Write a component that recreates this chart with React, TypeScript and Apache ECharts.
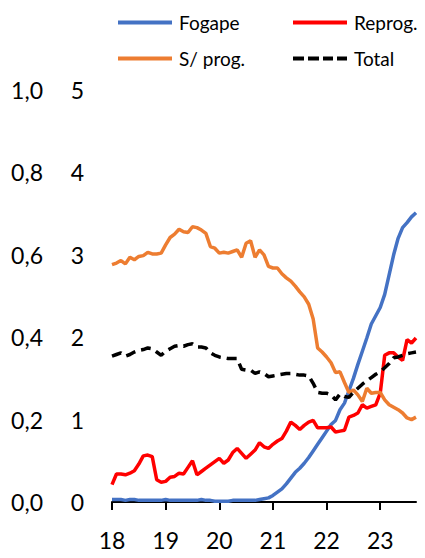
import React, { useEffect, useRef } from "react";
import * as echarts from "echarts";

// Monthly observations, Jan 2018 – Sep 2023
const START_YEAR = 2018;
const N_MONTHS = 69;
const months: string[] = Array.from({ length: N_MONTHS }, (_, i) => {
  const y = START_YEAR + Math.floor(i / 12);
  const m = (i % 12) + 1;
  return `${y}-${String(m).padStart(2, "0")}`;
});

const fogape = [
  0.03, 0.03, 0.03, 0.02, 0.03, 0.03, 0.02, 0.02, 0.02, 0.02, 0.02, 0.02,
  0.03, 0.02, 0.02, 0.02, 0.02, 0.02, 0.02, 0.02, 0.03, 0.02, 0.02, 0.01,
  0.01, 0.01, 0.01, 0.02, 0.02, 0.02, 0.02, 0.02, 0.02, 0.03, 0.04, 0.05,
  0.08, 0.12, 0.16, 0.22, 0.29, 0.36, 0.41, 0.47, 0.54, 0.62, 0.70, 0.78,
  0.86, 0.94, 0.99, 1.12, 1.20, 1.35, 1.50, 1.67, 1.83, 1.99, 2.16, 2.26,
  2.36, 2.52, 2.76, 3.00, 3.20, 3.33, 3.39, 3.46, 3.51,
];

const reprog = [
  0.21, 0.34, 0.34, 0.33, 0.35, 0.38, 0.46, 0.56, 0.57, 0.55, 0.27, 0.24,
  0.25, 0.30, 0.31, 0.35, 0.34, 0.42, 0.50, 0.33, 0.37, 0.41, 0.45, 0.49,
  0.53, 0.47, 0.51, 0.60, 0.65, 0.59, 0.53, 0.58, 0.63, 0.72, 0.67, 0.65,
  0.70, 0.74, 0.77, 0.86, 0.97, 0.93, 0.88, 0.93, 0.97, 0.99, 0.90, 0.90,
  0.90, 0.91, 0.85, 0.86, 0.87, 1.03, 1.05, 1.08, 1.18, 1.14, 1.16, 1.18,
  1.32, 1.78, 1.81, 1.81, 1.76, 1.72, 1.97, 1.93, 1.99,
];

const sinProg = [
  2.88, 2.90, 2.93, 2.89, 2.97, 2.94, 2.98, 2.99, 3.03, 3.01, 3.01, 3.02,
  3.12, 3.21, 3.25, 3.31, 3.28, 3.27, 3.34, 3.33, 3.30, 3.26, 3.10, 3.08,
  3.02, 3.03, 3.02, 3.04, 3.06, 2.97, 3.14, 3.17, 2.97, 3.06, 3.00, 2.86,
  2.84, 2.84, 2.77, 2.72, 2.68, 2.62, 2.55, 2.49, 2.40, 2.22, 1.87, 1.82,
  1.76, 1.69, 1.57, 1.58, 1.45, 1.33, 1.36, 1.30, 1.22, 1.38, 1.32, 1.33,
  1.33, 1.24, 1.18, 1.15, 1.12, 1.08, 1.02, 1.00, 1.03,
];

const total = [
  1.77, 1.79, 1.81, 1.77, 1.79, 1.82, 1.84, 1.85, 1.87, 1.86, 1.82, 1.78,
  1.83, 1.86, 1.89, 1.90, 1.89, 1.91, 1.92, 1.88, 1.88, 1.87, 1.81, 1.78,
  1.76, 1.75, 1.74, 1.74, 1.74, 1.61, 1.60, 1.60, 1.56, 1.58, 1.56, 1.52,
  1.53, 1.54, 1.55, 1.56, 1.56, 1.55, 1.54, 1.54, 1.53, 1.44, 1.33, 1.32,
  1.32, 1.30, 1.24, 1.31, 1.28, 1.27, 1.33, 1.38, 1.43, 1.47, 1.51, 1.55,
  1.58, 1.63, 1.68, 1.75, 1.76, 1.78, 1.80, 1.81, 1.82,
];

const FONT = "Lato, 'Open Sans', sans-serif";

// Legend keys: a solid bar, and a bar broken into four dashes (54 x 4)
const SOLID_ICON = "path://M0,0H54V4H0Z";
const DASH_ICON = "path://M0,0H11V4H0Z M15,0H26V4H15Z M30,0H40V4H30Z M44,0H54V4H44Z";

export default function App() {
  const ref = useRef<HTMLDivElement>(null);

  useEffect(() => {
    document.body.style.margin = "0";
    if (!ref.current) return;
    const chart = echarts.init(ref.current, null, { renderer: "svg" });

    const isJan = (i: number) => i % 12 === 0;
    const legendText = { fontFamily: FONT, fontSize: 19, color: "#000", padding: [0, 0, 0, 2] };
    const mkLegend = (name: string, left: number, top: number, icon: string) => ({
      data: [{ name, icon }],
      left,
      top,
      itemWidth: 54,
      itemHeight: 4,
      textStyle: legendText,
      selectedMode: false,
    });

    chart.setOption({
      animation: false,
      backgroundColor: "#fff",
      textStyle: { fontFamily: FONT },
      grid: { left: 112, right: 9, top: 90, bottom: 56 },
      legend: [
        mkLegend("Fogape", 113, 8, SOLID_ICON),
        mkLegend("Reprog.", 288, 8, SOLID_ICON),
        mkLegend("S/ prog.", 113, 44, SOLID_ICON),
        mkLegend("Total", 288, 44, DASH_ICON),
      ],
      xAxis: {
        type: "category",
        data: months,
        boundaryGap: false,
        axisLine: { lineStyle: { color: "#000", width: 2 } },
        axisTick: {
          interval: (i: number) => isJan(i),
          length: 8,
          lineStyle: { color: "#000", width: 2 },
        },
        axisLabel: {
          interval: (i: number) => isJan(i),
          formatter: (v: string) => v.slice(2, 4),
          fontFamily: FONT,
          fontSize: 23,
          color: "#000",
          margin: 26,
        },
        splitLine: { show: false },
      },
      yAxis: [
        {
          type: "value",
          position: "left",
          min: 0,
          max: 5,
          interval: 1,
          axisLine: { show: false },
          axisTick: { show: false },
          splitLine: { show: false },
          axisLabel: { fontFamily: FONT, fontSize: 23, color: "#000", margin: 28 },
        },
        {
          type: "value",
          position: "left",
          min: 0,
          max: 1,
          interval: 0.2,
          axisLine: { show: false },
          axisTick: { show: false },
          splitLine: { show: false },
          axisLabel: {
            fontFamily: FONT,
            fontSize: 23,
            color: "#000",
            margin: 69,
            formatter: (v: number) => v.toFixed(1).replace(".", ","),
          },
        },
      ],
      series: [
        {
          name: "Fogape",
          type: "line",
          data: fogape,
          yAxisIndex: 0,
          symbol: "none",
          lineStyle: { color: "#4472C4", width: 3.5 },
          itemStyle: { color: "#4472C4" },
        },
        {
          name: "Reprog.",
          type: "line",
          data: reprog,
          yAxisIndex: 0,
          symbol: "none",
          lineStyle: { color: "#FF0000", width: 3.5 },
          itemStyle: { color: "#FF0000" },
        },
        {
          name: "S/ prog.",
          type: "line",
          data: sinProg,
          yAxisIndex: 0,
          symbol: "none",
          lineStyle: { color: "#ED7D31", width: 3.5 },
          itemStyle: { color: "#ED7D31" },
        },
        {
          name: "Total",
          type: "line",
          data: total,
          yAxisIndex: 0,
          symbol: "none",
          lineStyle: { color: "#000", width: 3.5, type: [10, 6] },
          itemStyle: { color: "#000" },
        },
      ],
    });

    return () => chart.dispose();
  }, []);

  return <div ref={ref} style={{ width: 425, height: 558 }} />;
}
